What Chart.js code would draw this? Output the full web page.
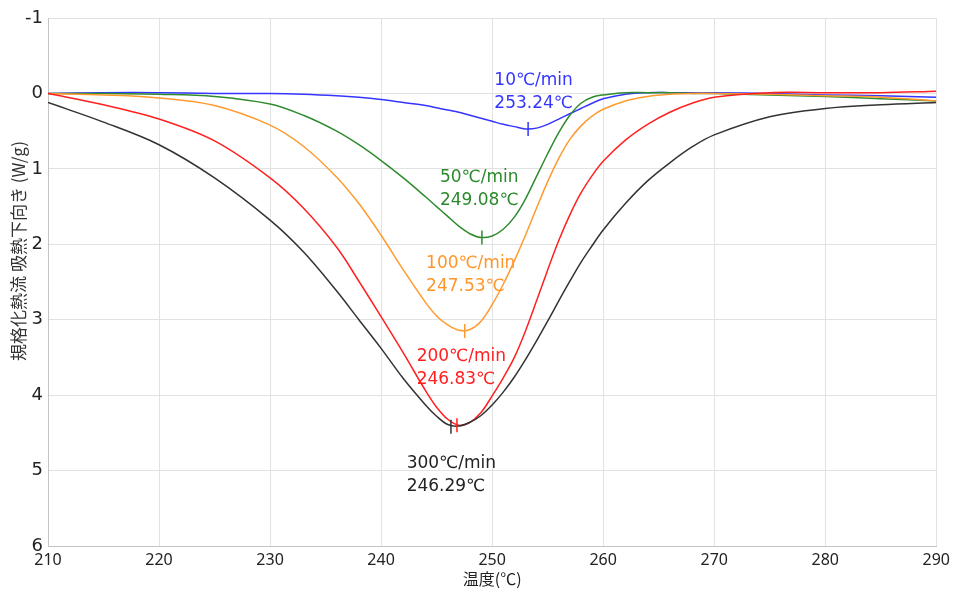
<!DOCTYPE html>
<html>
<head>
<meta charset="utf-8">
<script src="https://cdn.jsdelivr.net/npm/chart.js@4/dist/chart.umd.min.js"></script>
<style>
  html, body { margin: 0; padding: 0; background: #fff; }
</style>
</head>
<body>
<canvas id="dscChart" width="955" height="590"></canvas>
<script>
// 温度 (x) と 規格化熱流 (y)
const temps = [210, 215, 220, 225, 230, 233, 236, 238, 240, 242, 244, 245, 246, 247, 248, 249, 250, 251,
  252, 253, 254, 255, 256, 257, 258, 259, 260, 262, 264, 266, 268, 270, 275, 280, 285, 290];

const heat10 = [0, -0.01, -0.01, 0, 0, 0.01, 0.03, 0.05, 0.08, 0.12, 0.16, 0.19, 0.22, 0.25, 0.29, 0.33, 0.37, 0.41,
  0.44, 0.47, 0.46, 0.41, 0.34, 0.27, 0.20, 0.13, 0.07, 0.01, -0.01, -0.01, -0.01, -0.01, 0, 0.02, 0.03, 0.05];
const heat50 = [0, 0, 0.01, 0.04, 0.14, 0.29, 0.50, 0.68, 0.89, 1.12, 1.37, 1.50, 1.63, 1.76, 1.86, 1.91, 1.89, 1.80,
  1.64, 1.40, 1.10, 0.80, 0.52, 0.29, 0.13, 0.05, 0.02, -0.01, -0.01, -0.01, 0, 0, 0.02, 0.04, 0.07, 0.10];
const heat100 = [0, 0.02, 0.06, 0.16, 0.42, 0.70, 1.11, 1.46, 1.88, 2.34, 2.77, 2.95, 3.07, 3.14, 3.13, 3.02, 2.80, 2.53,
  2.22, 1.88, 1.52, 1.17, 0.86, 0.61, 0.43, 0.30, 0.21, 0.10, 0.04, 0.01, 0, 0, 0.01, 0.03, 0.05, 0.10];
const heat200 = [0, 0.15, 0.34, 0.63, 1.12, 1.52, 2.04, 2.49, 2.96, 3.44, 3.94, 4.16, 4.32, 4.40, 4.36, 4.23, 4.01, 3.77,
  3.50, 3.15, 2.75, 2.34, 1.95, 1.61, 1.32, 1.09, 0.90, 0.62, 0.41, 0.25, 0.13, 0.05, -0.01, -0.01, -0.01, -0.03];
const heat300 = [0.12, 0.38, 0.68, 1.12, 1.68, 2.10, 2.62, 3.00, 3.38, 3.78, 4.13, 4.28, 4.39, 4.41, 4.36, 4.27, 4.13, 3.96,
  3.76, 3.53, 3.28, 3.02, 2.75, 2.49, 2.24, 2.02, 1.81, 1.46, 1.16, 0.92, 0.71, 0.55, 0.31, 0.20, 0.15, 0.12];

// ピーク
const rateNames = ["10℃/min", "50℃/min", "100℃/min", "200℃/min", "300℃/min"];
const peakTemps = [253.24, 249.08, 247.53, 246.83, 246.29];
const peakHeat = [0.47, 1.91, 3.15, 4.40, 4.42];

const seriesHeat = [heat10, heat50, heat100, heat200, heat300];
const lineColors = ["#3535ff", "#2e8b2e", "#ff9a30", "#ff2020", "#333333"];
const textColors = ["#3535ff", "#2b8a2b", "#ff962a", "#ff2020", "#222222"];
// ラベル位置 (データ座標: 左端, 1行目の中心)
const labelAnchors = [
  { x: 250.2, y: -0.17 },
  { x: 245.3, y: 1.12 },
  { x: 244.05, y: 2.26 },
  { x: 243.2, y: 3.49 },
  { x: 242.3, y: 4.91 }
];

const labelPlugin = {
  id: "peakLabels",
  afterDatasetsDraw(chart) {
    const ctx = chart.ctx;
    const xs = chart.scales.x;
    const ys = chart.scales.y;
    ctx.save();
    ctx.font = "17px 'DejaVu Sans'";
    ctx.textAlign = "left";
    ctx.textBaseline = "middle";
    labelAnchors.forEach((a, i) => {
      const px = xs.getPixelForValue(a.x);
      const py = ys.getPixelForValue(a.y);
      ctx.fillStyle = textColors[i];
      ctx.fillText(rateNames[i], px, py);
      ctx.fillText(peakTemps[i].toFixed(2) + "℃", px, py + 22.5);
    });
    ctx.restore();
  },
  afterDraw(chart) {
    // 縦軸タイトル
    const ctx = chart.ctx;
    ctx.save();
    ctx.translate(19, 251);
    ctx.rotate(-Math.PI / 2);
    ctx.font = "17px 'Noto Sans CJK JP'";
    ctx.fillStyle = "#333";
    ctx.textAlign = "center";
    ctx.textBaseline = "middle";
    ctx.fillText("規格化熱流 吸熱下向き (W/g)", 0, 0);
    ctx.restore();
  }
};

const datasets = seriesHeat.map((heat, i) => ({
  label: rateNames[i],
  data: temps.map((t, j) => ({ x: t, y: heat[j] })),
  borderColor: lineColors[i],
  borderWidth: 1.5,
  pointRadius: 0,
  tension: 0.35,
  order: 5 - i
}));

datasets.push({
  type: "scatter",
  label: "peaks",
  data: peakTemps.map((t, i) => ({ x: t, y: peakHeat[i] })),
  pointStyle: "line",
  rotation: 90,
  pointRadius: 7,
  pointBorderWidth: 1.5,
  pointBorderColor: lineColors,
  pointBackgroundColor: lineColors,
  order: -1
});

const ctxDsc = document.getElementById("dscChart").getContext("2d");
const dscChart = new Chart(ctxDsc, {
  type: "line",
  data: { datasets: datasets },
  plugins: [labelPlugin],
  options: {
    responsive: false,
    animation: false,
    devicePixelRatio: 1,
    layout: { padding: { top: 18, right: 18, left: 0, bottom: 0 } },
    plugins: {
      legend: { display: false },
      tooltip: { enabled: false }
    },
    scales: {
      x: {
        type: "linear",
        min: 210,
        max: 290,
        ticks: {
          stepSize: 10,
          color: "#222",
          padding: 5,
          font: { family: "'Noto Sans'", size: 16 }
        },
        grid: { color: "#e2e2e2", drawTicks: false },
        border: { color: "#c4c4c4" },
        title: {
          display: true,
          text: "温度(℃)",
          color: "#222",
          padding: { top: 0, bottom: 1 },
          font: { family: "'Noto Sans CJK JP'", size: 16 }
        },
        afterFit(scale) { scale.height = 44; }
      },
      y: {
        type: "linear",
        reverse: true,
        min: -1,
        max: 6,
        ticks: {
          stepSize: 1,
          color: "#222",
          padding: 5,
          font: { family: "'DejaVu Sans'", size: 18 }
        },
        grid: { color: "#e2e2e2", drawTicks: false },
        border: { color: "#c4c4c4" },
        afterFit(scale) { scale.width = 48; }
      }
    }
  }
});
</script>
</body>
</html>
